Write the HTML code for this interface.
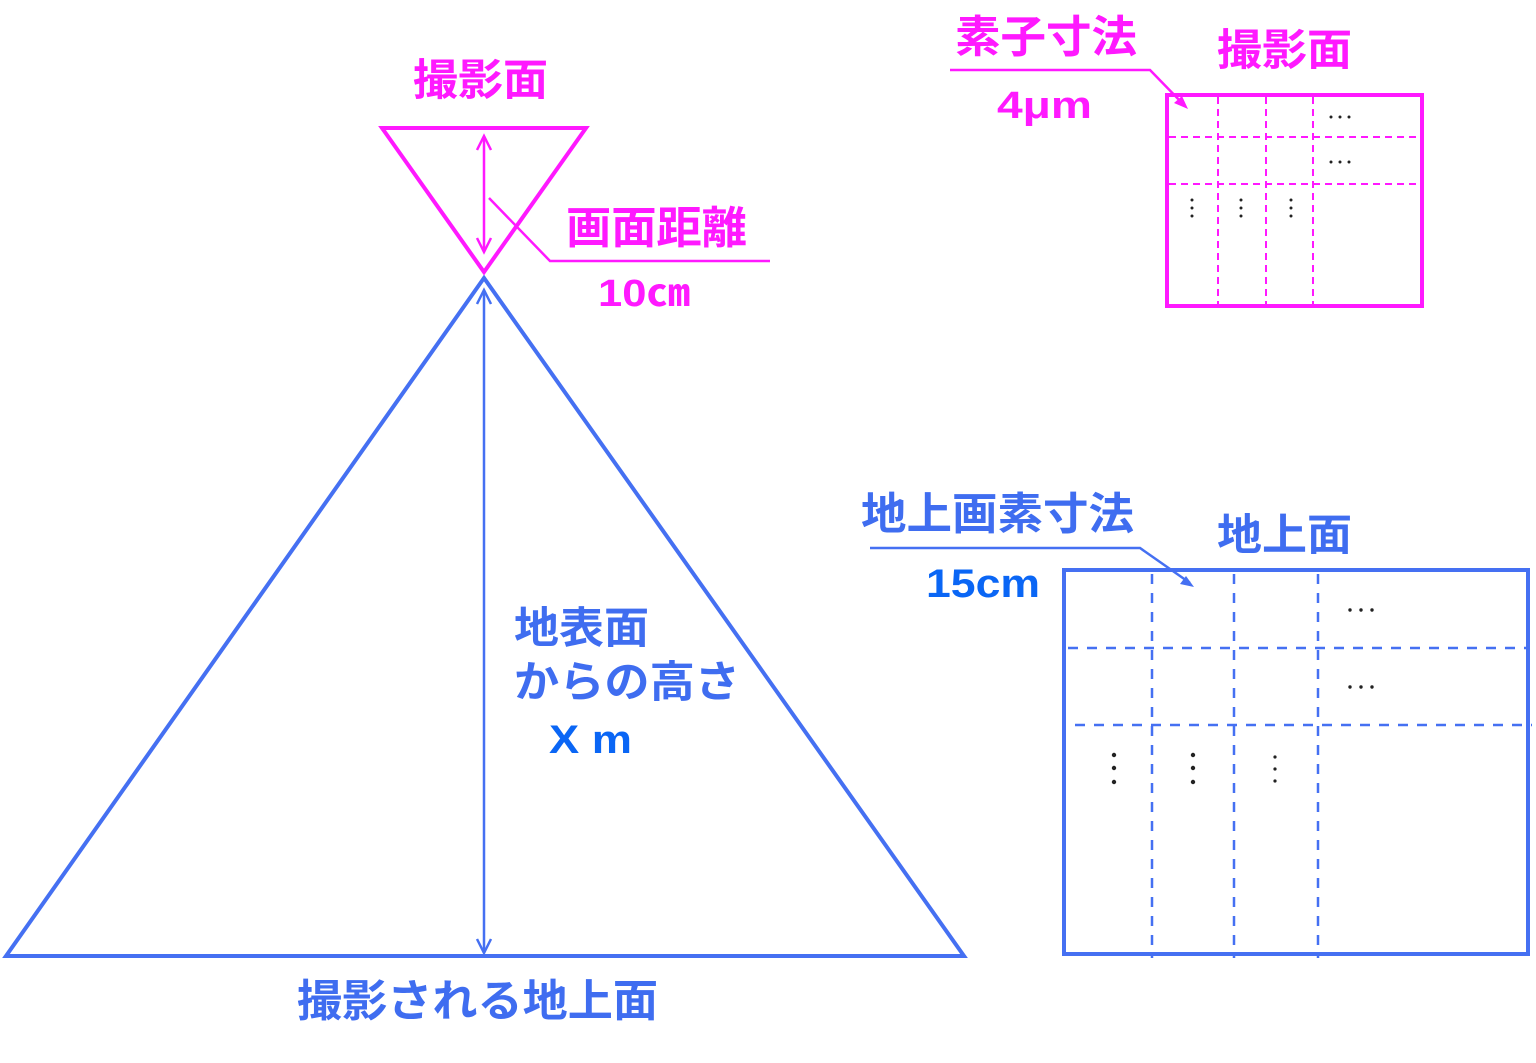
<!DOCTYPE html>
<html><head><meta charset="utf-8"><style>
html,body{margin:0;padding:0;background:#fff;}
svg{display:block;}
text{font-family:"Liberation Sans","Noto Sans CJK JP",sans-serif;font-weight:bold;}
.m{fill:#ff19ff;}
.b{fill:#3f6df0;}
.bb{fill:#0a66f5;}
</style></head><body>
<svg width="1536" height="1063" viewBox="0 0 1536 1063" xmlns="http://www.w3.org/2000/svg">
<polygon points="484,278 6,956 964,956" fill="none" stroke="#4570f2" stroke-width="4"/>
<line x1="484" y1="290" x2="484" y2="953" stroke="#4570f2" stroke-width="2.5"/>
<polyline points="477,304 484,290 491,304" fill="none" stroke="#4570f2" stroke-width="2.5"/>
<polyline points="477,939 484,953 491,939" fill="none" stroke="#4570f2" stroke-width="2.5"/>
<polygon points="382,128 586,128 484,272" fill="none" stroke="#ff19ff" stroke-width="4"/>
<line x1="484" y1="136" x2="484" y2="252" stroke="#ff19ff" stroke-width="2.5"/>
<polyline points="477,150 484,136 491,150" fill="none" stroke="#ff19ff" stroke-width="2.5"/>
<polyline points="477,238 484,252 491,238" fill="none" stroke="#ff19ff" stroke-width="2.5"/>
<polyline points="489,198 550,261 770,261" fill="none" stroke="#ff19ff" stroke-width="2.5"/>
<text x="413" y="95" font-size="43" class="m" textLength="135" lengthAdjust="spacingAndGlyphs">撮影面</text>
<text x="566" y="243" font-size="44" class="m" textLength="181" lengthAdjust="spacingAndGlyphs">画面距離</text>
<text x="598" y="306" font-size="38" class="m" textLength="92" lengthAdjust="spacingAndGlyphs">10㎝</text>
<text x="955" y="52" font-size="44" class="m" textLength="182" lengthAdjust="spacingAndGlyphs">素子寸法</text>
<text x="1217" y="65" font-size="43" class="m" textLength="135" lengthAdjust="spacingAndGlyphs">撮影面</text>
<text x="997" y="118" font-size="38" class="m" textLength="95" lengthAdjust="spacingAndGlyphs">4μm</text>
<polyline points="950,70 1150,70 1185,106" fill="none" stroke="#ff19ff" stroke-width="2.5"/>
<polygon points="1188,109 1174,103 1182,96" fill="#ff19ff"/>
<rect x="1167" y="95" width="255" height="211" fill="none" stroke="#ff19ff" stroke-width="4"/>
<g stroke="#ff19ff" stroke-width="2" stroke-dasharray="7,5">
<line x1="1218" y1="97" x2="1218" y2="304"/><line x1="1266" y1="97" x2="1266" y2="304"/><line x1="1313" y1="97" x2="1313" y2="304"/>
<line x1="1169" y1="137" x2="1420" y2="137"/><line x1="1169" y1="184" x2="1420" y2="184"/>
</g>
<g fill="#222"><circle cx="1331" cy="117" r="1.5"/><circle cx="1340" cy="117" r="1.5"/><circle cx="1349" cy="117" r="1.5"/>
<circle cx="1331" cy="162" r="1.5"/><circle cx="1340" cy="162" r="1.5"/><circle cx="1349" cy="162" r="1.5"/></g>
<g fill="#222"><circle cx="1192" cy="200" r="1.5"/><circle cx="1192" cy="208" r="1.5"/><circle cx="1192" cy="216" r="1.5"/>
<circle cx="1241" cy="200" r="1.5"/><circle cx="1241" cy="208" r="1.5"/><circle cx="1241" cy="216" r="1.5"/>
<circle cx="1291" cy="200" r="1.5"/><circle cx="1291" cy="208" r="1.5"/><circle cx="1291" cy="216" r="1.5"/></g>
<text x="861" y="529" font-size="44" class="b" textLength="273" lengthAdjust="spacingAndGlyphs">地上画素寸法</text>
<text x="1217" y="550" font-size="43" class="b" textLength="135" lengthAdjust="spacingAndGlyphs">地上面</text>
<text x="926" y="597" font-size="40" class="bb" textLength="114" lengthAdjust="spacingAndGlyphs">15cm</text>
<polyline points="870,548 1140,548 1190,583" fill="none" stroke="#4570f2" stroke-width="2.5"/>
<polygon points="1194,587 1180,584 1186,576" fill="#4570f2"/>
<rect x="1064" y="570" width="464" height="384" fill="none" stroke="#4570f2" stroke-width="4"/>
<g stroke="#4570f2" stroke-width="2.5" stroke-dasharray="10,9">
<line x1="1152" y1="574" x2="1152" y2="958"/><line x1="1234" y1="574" x2="1234" y2="958"/><line x1="1318" y1="574" x2="1318" y2="958"/>
<line x1="1068" y1="648" x2="1526" y2="648"/><line x1="1075" y1="725" x2="1532" y2="725"/>
</g>
<g fill="#222"><circle cx="1350" cy="610" r="1.7"/><circle cx="1361" cy="610" r="1.7"/><circle cx="1372" cy="610" r="1.7"/>
<circle cx="1350" cy="687" r="1.7"/><circle cx="1361" cy="687" r="1.7"/><circle cx="1372" cy="687" r="1.7"/></g>
<g fill="#222"><circle cx="1114" cy="755" r="2.2"/><circle cx="1114" cy="768" r="2.2"/><circle cx="1114" cy="782" r="2.2"/>
<circle cx="1193" cy="755" r="2.2"/><circle cx="1193" cy="768" r="2.2"/><circle cx="1193" cy="782" r="2.2"/>
<circle cx="1275" cy="757" r="1.6"/><circle cx="1275" cy="769" r="1.6"/><circle cx="1275" cy="781" r="1.6"/></g>
<text x="514" y="643" font-size="43" class="b" textLength="135" lengthAdjust="spacingAndGlyphs">地表面</text>
<text x="514" y="697" font-size="43" class="b" textLength="226" lengthAdjust="spacingAndGlyphs">からの高さ</text>
<text x="549" y="753" font-size="40" class="bb" textLength="83" lengthAdjust="spacingAndGlyphs">X m</text>
<text x="297" y="1016" font-size="44" class="b" textLength="361" lengthAdjust="spacingAndGlyphs">撮影される地上面</text>
</svg>
</body></html>
